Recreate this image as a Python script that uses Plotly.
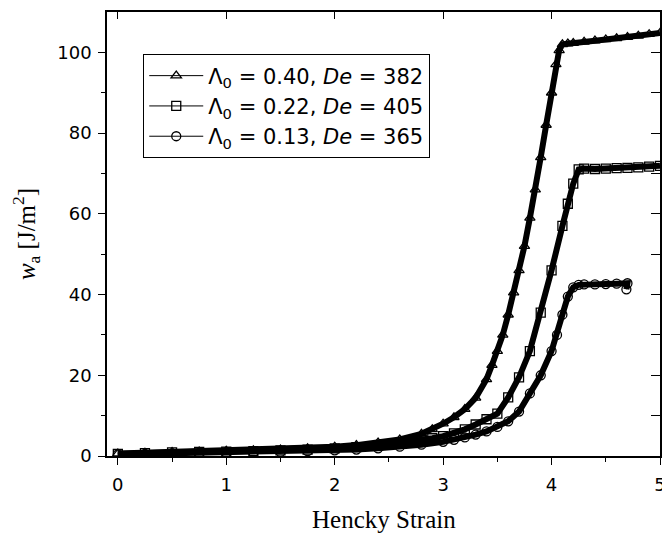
import plotly.graph_objects as go

# Hencky strain values and work of adhesion w_a [J/m^2]
x_tri = [0.0, 0.25, 0.5, 0.75, 1.0, 1.25, 1.5, 1.75, 2.0, 2.2, 2.4, 2.6, 2.8, 2.9, 3.0,
         3.1, 3.2, 3.3, 3.4, 3.45, 3.5, 3.55, 3.6, 3.65, 3.7, 3.75, 3.8, 3.85, 3.9, 3.95,
         4.0, 4.04, 4.07, 4.1, 4.15, 4.2, 4.3, 4.4, 4.5, 4.6, 4.7, 4.8, 4.9, 5.0]
y_tri = [0.6, 0.8, 1.0, 1.1, 1.3, 1.4, 1.6, 1.9, 2.3, 2.7, 3.3, 4.1, 5.5, 6.6, 8.0,
         9.6, 11.6, 14.4, 19.0, 22.5, 26.0, 30.0, 35.0, 40.5, 46.0, 52.0, 59.0, 66.0, 74.0, 82.0,
         90.0, 97.0, 100.5, 102.0, 102.2, 102.3, 102.6, 102.9, 103.2, 103.5, 103.8, 104.1, 104.5, 104.8]

x_sq = [0.0, 0.25, 0.5, 0.75, 1.0, 1.25, 1.5, 1.75, 2.0, 2.2, 2.4, 2.6, 2.8, 2.9, 3.0,
        3.1, 3.2, 3.3, 3.4, 3.5, 3.6, 3.7, 3.8, 3.9, 4.0, 4.1, 4.15, 4.2, 4.25, 4.3,
        4.4, 4.5, 4.6, 4.7, 4.8, 4.9, 5.0]
y_sq = [0.5, 0.7, 0.9, 1.0, 1.1, 1.2, 1.4, 1.6, 1.9, 2.2, 2.6, 3.2, 4.0, 4.4, 4.9,
        5.6, 6.6, 7.8, 9.1, 10.5, 14.5, 19.5, 26.0, 35.5, 46.0, 57.0, 62.5, 67.5, 71.0, 71.2,
        71.1, 71.2, 71.3, 71.4, 71.5, 71.7, 71.9]

x_circ = [0.0, 0.25, 0.5, 0.75, 1.0, 1.25, 1.5, 1.75, 2.0, 2.2, 2.4, 2.6, 2.8, 3.0,
          3.1, 3.2, 3.3, 3.4, 3.5, 3.6, 3.7, 3.8, 3.9, 4.0, 4.05, 4.1, 4.15, 4.2, 4.25,
          4.3, 4.4, 4.5, 4.6, 4.7, 4.69]
y_circ = [0.4, 0.5, 0.6, 0.7, 0.8, 0.9, 1.0, 1.2, 1.4, 1.6, 1.9, 2.3, 2.8, 3.5,
          4.0, 4.6, 5.3, 6.1, 7.2, 8.6, 11.0, 15.5, 20.0, 26.0, 30.0, 35.0, 39.5, 41.8, 42.4,
          42.5, 42.5, 42.6, 42.7, 42.8, 41.3]

names = ["Λ<sub>0</sub> = 0.40, <i>De</i> = 382",
         "Λ<sub>0</sub> = 0.22, <i>De</i> = 405",
         "Λ<sub>0</sub> = 0.13, <i>De</i> = 365"]
symbols = ["triangle-up-open", "square-open", "circle-open"]
series = [(x_tri, y_tri), (x_sq, y_sq), (x_circ, y_circ)]
x_title = "Hencky Strain"
y_title = "<i>w</i><sub>a</sub> [J/m<sup>2</sup>]"

fig = go.Figure()
for (xs, ys), nm, sym in zip(series, names, symbols):
    # thick band formed by the dense overlapping markers in the original
    fig.add_trace(go.Scatter(x=xs, y=ys, mode="lines", showlegend=False,
                             line=dict(color="black", width=6), hoverinfo="skip"))
    fig.add_trace(go.Scatter(x=xs, y=ys, mode="lines+markers", name=nm,
                             line=dict(color="black", width=1),
                             marker=dict(symbol=sym, size=9, color="black",
                                         line=dict(color="black", width=1.3))))

# invisible trace for the mirrored (top/right) axes
fig.add_trace(go.Scatter(x=[0], y=[0], xaxis="x2", yaxis="y2", mode="markers",
                         marker=dict(opacity=0), showlegend=False, hoverinfo="skip"))

tick_font = dict(family="DejaVu Sans, Arial, sans-serif", size=18, color="black")
title_font = dict(family="Liberation Serif, Times New Roman, serif", size=25, color="black")

# the page places the figure 8px from the top-left corner of the window
fig.update_layout(
    width=662, height=530,
    margin=dict(l=99, r=7, t=4, b=82),
    paper_bgcolor="white", plot_bgcolor="white",
    xaxis=dict(range=[-0.1, 5], tickvals=[0, 1, 2, 3, 4, 5], ticks="outside", ticklen=7,
               tickwidth=1.3, tickcolor="black", showline=True, linecolor="black", linewidth=1.5,
               showgrid=False, zeroline=False, tickfont=tick_font, ticklabeloverflow="allow",
               ticklabelstandoff=5,
               minor=dict(tickvals=[0.5, 1.5, 2.5, 3.5, 4.5], ticks="outside", ticklen=4,
                          tickcolor="black", tickwidth=1)),
    yaxis=dict(range=[0, 110], tickvals=[0, 20, 40, 60, 80, 100], ticks="outside", ticklen=7,
               tickwidth=1.3, tickcolor="black", showline=True, linecolor="black", linewidth=1.5,
               showgrid=False, zeroline=False, tickfont=tick_font, ticklabelstandoff=3,
               minor=dict(tickvals=[10, 30, 50, 70, 90], ticks="outside", ticklen=4,
                          tickcolor="black", tickwidth=1),
               title=dict(text=y_title, font=title_font, standoff=17)),
    xaxis2=dict(range=[-0.1, 5], overlaying="x", side="top", anchor="y2",
                tickvals=[0, 1, 2, 3, 4, 5], ticks="inside", ticklen=7, tickcolor="black",
                showticklabels=False, showgrid=False, zeroline=False,
                showline=True, linecolor="black", linewidth=1.5),
    yaxis2=dict(range=[0, 110], overlaying="y", side="right", anchor="x2",
                tickvals=[0, 20, 40, 60, 80, 100], ticks="inside", ticklen=9, tickcolor="black",
                showticklabels=False, showgrid=False, zeroline=False,
                showline=True, linecolor="black", linewidth=1.5,
                minor=dict(tickvals=[10, 30, 50, 70, 90], ticks="inside", ticklen=9,
                           tickcolor="black", tickwidth=1)),
    legend=dict(x=0.065, y=0.905, xanchor="left", yanchor="top",
                bgcolor="white", bordercolor="black", borderwidth=1.3,
                font=dict(family="DejaVu Sans, Arial, sans-serif", size=21, color="black"),
                itemwidth=54),
    showlegend=True,
    annotations=[dict(text=x_title, xref="paper", yref="paper", x=0.5, y=-0.142,
                      xanchor="center", yanchor="middle", showarrow=False, font=title_font)],
)

fig.write_html("out.html", default_width="662px", default_height="530px")
